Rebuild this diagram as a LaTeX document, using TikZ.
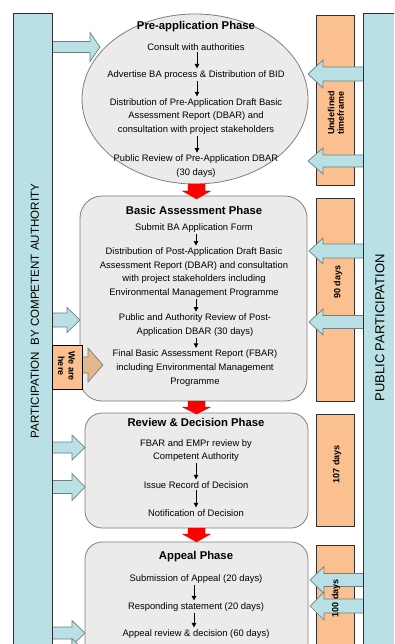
\documentclass[tikz,border=0pt]{standalone}
\usepackage{fontspec}
\setmainfont{Liberation Sans}
\usetikzlibrary{arrows.meta}
\definecolor{barblue}{HTML}{B9E0E4}
\definecolor{orangebox}{HTML}{FAC08F}
\definecolor{phasegray}{HTML}{EBEBEB}
\definecolor{phaseline}{HTML}{7F7F7F}
\definecolor{tanarrow}{HTML}{E3B88A}
\definecolor{arrline}{HTML}{707F80}
\definecolor{darkline}{HTML}{303030}
% horizontal block arrow: tail x, head-base x, tip x, centre y, shaft half, head half
\newcommand\blkarr[7][]{\draw[#1] (#2,#5-#6) -- (#3,#5-#6) -- (#3,#5-#7) -- (#4,#5) -- (#3,#5+#7) -- (#3,#5+#6) -- (#2,#5+#6) -- cycle;}
% vertical block arrow: tail y, head-base y, tip y, centre x, shaft half, head half
\newcommand\blkarrv[7][]{\draw[#1] (#5-#6,#2) -- (#5-#6,#3) -- (#5-#7,#3) -- (#5,#4) -- (#5+#7,#3) -- (#5+#6,#3) -- (#5+#6,#2) -- cycle;}
\tikzset{
  phase/.style={fill=phasegray, draw=phaseline, line width=0.8pt},
  obox/.style={fill=orangebox, draw=darkline, line width=0.6pt},
  bar/.style={fill=barblue, draw=darkline, line width=0.8pt},
  bluearr/.style={fill=barblue, draw=arrline, line width=0.7pt},
  redarr/.style={fill=red, draw=red!80!black, line width=0.3pt},
  tanarr/.style={fill=tanarrow, draw=arrline, line width=0.7pt},
  title/.style={font=\bfseries\fontsize{11.3}{13}\selectfont, inner sep=0pt},
  body/.style={font=\fontsize{9.4}{13.6}\selectfont, align=center, inner sep=0pt},
  olabel/.style={rotate=90, font=\bfseries\fontsize{9}{9.5}\selectfont, align=center, inner sep=0pt},
  smallarr/.style={-{Triangle[length=4.5pt,width=4.5pt]}, line width=0.7pt, shorten <=1.5pt, shorten >=2pt},
}
\begin{document}
\begin{tikzpicture}[x=1pt,y=-1pt]
\useasboundingbox (0,0) rectangle (394,644);
\clip (0,0) rectangle (394,644);
\fill[white] (0,0) rectangle (394,644);

% phase shapes
\draw[phase] (195,99) ellipse [x radius=113, y radius=85];
\draw[phase, rounded corners=22pt] (80,196) rectangle (307,401);
\draw[phase, rounded corners=17pt] (85,413) rectangle (308,528);
\draw[phase, rounded corners=17pt] (85,542) rectangle (308,670);

% orange timeframe boxes
\draw[obox] (316,15) rectangle (354,185);
\draw[obox] (316,198) rectangle (354,401);
\draw[obox] (316,414) rectangle (354,526);
\draw[obox] (316,545) rectangle (354,670);

% timeframe labels
\node[olabel] (tf1) at (336,113) {Undefined\\timeframe};
\node[olabel] (tf2) at (338,282) {90 days};
\node[olabel] (tf3) at (337,464) {107 days};

% left block arrows
\blkarr[bluearr]{48}{90}{100}{47}{5.5}{14.5}
\blkarr[bluearr]{48}{67}{80}{320}{7}{12.5}
\blkarr[bluearr]{48}{72}{85}{447.5}{5.5}{12.5}
\blkarr[bluearr]{48}{72}{85}{487}{6.5}{13.5}
\blkarr[bluearr]{48}{72}{85}{633}{6}{12.5}
\blkarr[bluearr]{48}{72}{85}{651}{6}{12.5}

% right block arrows
\blkarr[bluearr]{367}{323}{308}{74}{7}{14}
\blkarr[bluearr]{367}{323}{308}{161}{6}{13}
\blkarr[bluearr]{367}{323}{309}{251}{7}{13}
\blkarr[bluearr]{367}{323}{309}{322}{6.5}{13}
\blkarr[bluearr]{367}{324}{310}{580}{6.5}{13.5}
\blkarr[bluearr]{367}{324}{310}{606}{7}{14}
\node[olabel] (tf4) at (336,598) {100 days};

% side bars
\draw[bar] (13,13) rectangle (52,700);
\draw[bar] (363,13) rectangle (420,700);
\node[rotate=90, font=\fontsize{11.6}{13}\selectfont, inner sep=0pt] (lbar) at (35,311) {PARTICIPATION\ \ BY COMPETENT AUTHORITY};
\node[rotate=90, font=\fontsize{13}{15}\selectfont, inner sep=0pt] (rbar) at (380,328) {PUBLIC PARTICIPATION};

% we are here
\blkarr[tanarr]{78}{88}{103}{365}{8}{17}
\draw[fill=orangebox, draw=black, line width=1pt] (52,345) rectangle (82,389);
\node[rotate=-90, font=\bfseries\fontsize{9}{10.5}\selectfont, align=center, inner sep=0pt] (here) at (66.5,366) {We are\\here};

% red arrows between phases
\blkarrv[redarr]{184}{191}{199}{196.5}{8.5}{14}
\blkarrv[redarr]{401}{407}{414}{196.5}{8.5}{14}
\blkarrv[redarr]{528}{534}{542}{196.5}{8.5}{14}

% Pre-application phase
\node[title] (t1) at (196,27) {Pre-application Phase};
\node[body] (a1) at (196,47) {Consult with authorities};
\node[body] (a2) at (196,75) {Advertise BA process \& Distribution of BID};
\node[body] (a3) at (196,116.5) {Distribution of Pre-Application Draft Basic\\Assessment Report (DBAR) and\\consultation with project stakeholders};
\node[body] (a4) at (196,166) {Public Review of Pre-Application DBAR\\(30 days)};
\draw[smallarr] (a1.south -| 197,0) -- (a2.north -| 197,0);
\draw[smallarr] (a2.south -| 197,0) -- (a3.north -| 197,0);
\draw[smallarr] (a3.south -| 197,0) -- (a4.north -| 197,0);

% Basic assessment phase
\node[title] (t2) at (194,210) {Basic Assessment Phase};
\node[body] (b1) at (194,228) {Submit BA Application Form};
\node[body] (b2) at (194,272.5) {Distribution of Post-Application Draft Basic\\Assessment Report (DBAR) and consultation\\with project stakeholders including\\Environmental Management Programme};
\node[body] (b3) at (195,325) {Public and Authority Review of Post-\\Application DBAR (30 days)};
\node[body] (b4) at (195,368) {Final Basic Assessment Report (FBAR)\\including Environmental Management\\Programme};
\draw[smallarr] (b1.south -| 196,0) -- (b2.north -| 196,0);
\draw[smallarr] (b2.south -| 196,0) -- (b3.north -| 196,0);
\draw[smallarr] (b3.south -| 196,0) -- (b4.north -| 196,0);

% Review & decision phase
\node[title] (t3) at (196,422) {Review \& Decision Phase};
\node[body] (c1) at (196,450.5) {FBAR and EMPr review by\\Competent Authority};
\node[body] (c2) at (196,485) {Issue Record of Decision};
\node[body] (c3) at (196,513) {Notification of Decision};
\draw[smallarr] (c1.south -| 196,0) -- (c2.north -| 196,0);
\draw[smallarr] (c2.south -| 196,0) -- (c3.north -| 196,0);

% Appeal phase
\node[title] (t4) at (196,557) {Appeal Phase};
\node[body] (d1) at (196,579) {Submission of Appeal (20 days)};
\node[body] (d2) at (196,607) {Responding statement (20 days)};
\node[body] (d3) at (196,634) {Appeal review \& decision (60 days)};
\draw[smallarr] (d1.south -| 194,0) -- (d2.north -| 194,0);
\draw[smallarr] (d2.south -| 194,0) -- (d3.north -| 194,0);
\end{tikzpicture}
\end{document}
